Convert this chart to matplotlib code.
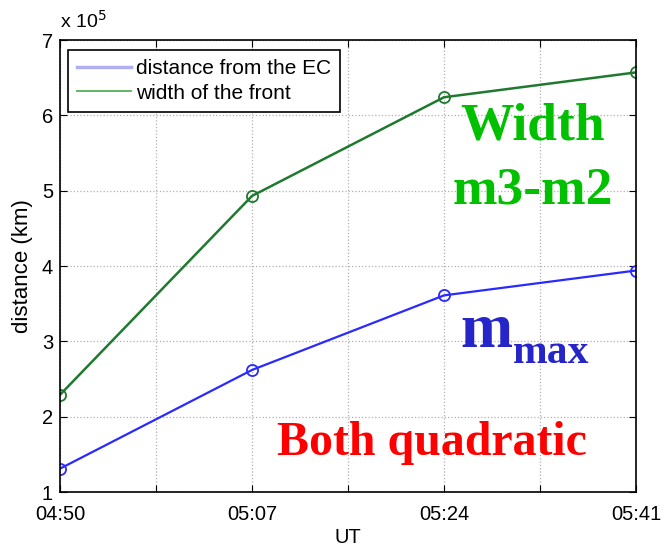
import matplotlib
matplotlib.use("Agg")
import matplotlib.pyplot as plt
from matplotlib.lines import Line2D
import numpy as np

times = ["04:50", "05:07", "05:24", "05:41"]
t_minutes = [0, 17, 34, 51]
dist_ec = [1.31, 2.62, 3.61, 3.94]      # x 10^5 km
width_front = [2.29, 4.93, 6.24, 6.57]  # x 10^5 km

plt.rcParams['font.family'] = ['Liberation Sans', 'DejaVu Sans']

fig = plt.figure(figsize=(6.64, 5.49), dpi=100)
ax = fig.add_axes([60/664, 1-492/549, 576/664, 452/549])

blue = '#2a2aff'
green = '#1f7a30'
ax.plot(t_minutes, dist_ec, color=blue, lw=1.6, marker='o', ms=8,
        mfc='none', mec=blue, mew=1.3)
ax.plot(t_minutes, width_front, color=green, lw=1.8, marker='o', ms=8,
        mfc='none', mec=green, mew=1.3)

ax.set_xlim(0, 51)
ax.set_ylim(1, 7)
ax.set_xticks(np.arange(0, 52, 8.5))
ax.set_xticklabels([times[i // 2] if i % 2 == 0 else '' for i in range(7)])
ax.set_yticks(range(1, 8))
ax.tick_params(direction='in', length=5, labelsize=14.5, top=True, right=True)
ax.tick_params(axis='x', pad=9)
ax.tick_params(axis='y', pad=5)
ax.grid(True, linestyle=':', color='#b0b0b0', lw=0.9)
for s in ax.spines.values():
    s.set_linewidth(1.2)
ax.set_xlabel('UT', fontsize=14.5, labelpad=3)
ax.set_ylabel('distance (km)', fontsize=16, labelpad=6)
fig.text(60/664, 1-28/549, r'x 10$^5$', fontsize=14, ha='left',
         va='baseline')

handles = [Line2D([], [], color='#b0b0f0', lw=2.5),
           Line2D([], [], color='#55b055', lw=1.3)]
leg = ax.legend(handles, ['distance from the EC', 'width of the front'],
                loc='upper left', bbox_to_anchor=(8/576, 1-10/452),
                fontsize=15, fancybox=False, framealpha=1,
                edgecolor='black', borderaxespad=0, handlelength=2.55,
                handletextpad=0.25, labelspacing=0.25, borderpad=0.45)
leg.get_frame().set_linewidth(1.2)

serif = ['Liberation Serif', 'DejaVu Serif']
fig.text(533/664, 1-140/549, 'Width', ha='center', va='baseline',
         color='#00c000', fontsize=38.5, fontweight='bold', family=serif)
fig.text(533/664, 1-203/549, 'm3-m2', ha='center', va='baseline',
         color='#00c000', fontsize=38.5, fontweight='bold', family=serif)
fig.text(460/664, 1-347/549, 'm', ha='left', va='baseline',
         color='#2626c8', fontsize=45, fontweight='bold', family=serif)
fig.text(513/664, 1-363/549, 'max', ha='left', va='baseline',
         color='#2626c8', fontsize=30, fontweight='bold', family=serif)
fig.text(432/664, 1-443/549, 'Both quadratic', ha='center', va='center',
         color='#ff0000', fontsize=34.5, fontweight='bold', family=serif)

fig.savefig('out.png', dpi=100)
